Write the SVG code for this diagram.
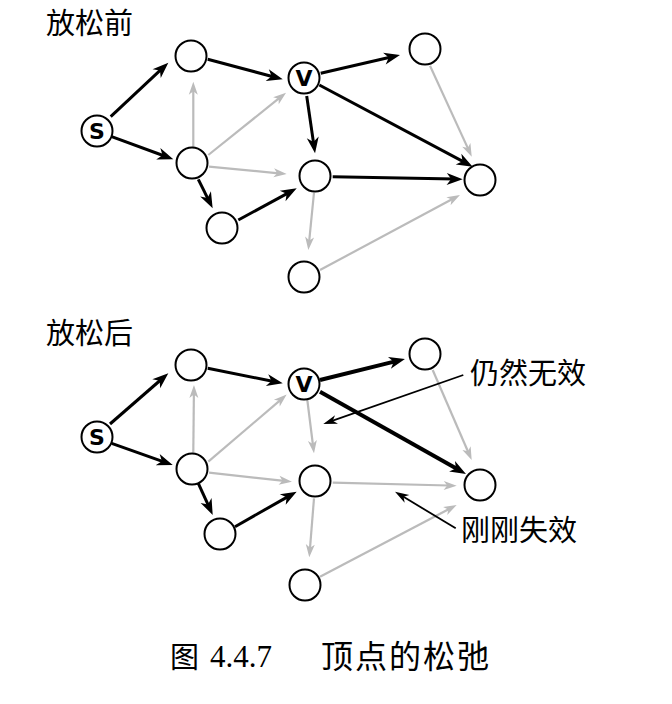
<svg xmlns="http://www.w3.org/2000/svg" width="672" height="704" viewBox="0 0 672 704">
<style>
.n{fill:#fff;stroke:#000;stroke-width:2}
.k{stroke:#000;stroke-width:3;fill:none;marker-end:url(#ab)}
.kk{stroke:#000;stroke-width:4;fill:none;marker-end:url(#ab)}
.g{stroke:#bbb;stroke-width:2.2;fill:none;marker-end:url(#ag)}
.an{stroke:#000;stroke-width:1.8;fill:none;marker-end:url(#aa)}
.lb{font-family:"DejaVu Sans",sans-serif;font-weight:bold;font-size:22px;text-anchor:middle}
.t{font-family:"Noto Sans CJK SC",sans-serif;font-size:29px}
</style>
<defs>
<marker id="ab" markerUnits="userSpaceOnUse" markerWidth="18" markerHeight="13" refX="8" refY="6" orient="auto" overflow="visible"><path d="M0,0 L16,6 L0,12 L4.5,6 z" fill="#000"/></marker>
<marker id="ag" markerUnits="userSpaceOnUse" markerWidth="14" markerHeight="10" refX="5" refY="4.5" orient="auto" overflow="visible"><path d="M0,0 L13,4.5 L0,9 L3.5,4.5 z" fill="#bbb"/></marker>
<marker id="aa" markerUnits="userSpaceOnUse" markerWidth="15" markerHeight="10" refX="7" refY="4.5" orient="auto" overflow="visible"><path d="M0,0 L14,4.5 L0,9 L4,4.5 z" fill="#000"/></marker>
</defs>
<text class="t" x="46" y="34">放松前</text>
<text class="t" x="46" y="344">放松后</text>
<g id="edges-top">
<line class="g" x1="193.3" y1="148.3" x2="193.3" y2="89.7"/>
<line class="g" x1="208.3" y1="155" x2="279.8" y2="97.7"/>
<line class="g" x1="209" y1="166.7" x2="278.7" y2="173.3"/>
<line class="g" x1="430" y1="65.7" x2="468.4" y2="149.4"/>
<line class="g" x1="314" y1="192.7" x2="309.1" y2="242"/>
<line class="g" x1="320" y1="270" x2="452.9" y2="198.8"/>
<line class="k" x1="110.7" y1="116.7" x2="162.5" y2="68.2"/>
<line class="k" x1="111.7" y1="136.7" x2="165.8" y2="156.5"/>
<line class="k" x1="207.7" y1="59.3" x2="275" y2="77.2"/>
<line class="k" x1="198.3" y1="179.3" x2="209.1" y2="201.1"/>
<line class="k" x1="238.3" y1="220" x2="289.7" y2="192.1"/>
<line class="k" x1="320.7" y1="73.3" x2="392.2" y2="56.8"/>
<line class="k" x1="306.7" y1="96" x2="313.9" y2="145.4"/>
<line class="k" x1="319.3" y1="85" x2="465.6" y2="162.9"/>
<line class="k" x1="332.7" y1="176.7" x2="454.7" y2="179.1"/>
</g>
<g id="edges-bottom">
<line class="g" x1="193.3" y1="452.7" x2="193.9" y2="393"/>
<line class="g" x1="208.3" y1="461.7" x2="280.6" y2="399.8"/>
<line class="g" x1="209" y1="472.7" x2="284" y2="480.8"/>
<line class="g" x1="307.3" y1="400" x2="313" y2="445.4"/>
<line class="g" x1="332.7" y1="482.7" x2="448.7" y2="485.5"/>
<line class="g" x1="432.7" y1="370" x2="468.5" y2="452.7"/>
<line class="g" x1="314" y1="498.3" x2="309.9" y2="549.3"/>
<line class="g" x1="320" y1="576.7" x2="449.6" y2="508.7"/>
<line class="k" x1="110" y1="424" x2="162.3" y2="378.5"/>
<line class="k" x1="111.7" y1="443.3" x2="165.2" y2="462.3"/>
<line class="k" x1="207.7" y1="368.3" x2="274.9" y2="381.7"/>
<line class="k" x1="198.3" y1="483.3" x2="209.4" y2="507.7"/>
<line class="k" x1="235" y1="526.7" x2="289.7" y2="495.6"/>
<line class="kk" x1="320" y1="380" x2="397.2" y2="360.9"/>
<line class="kk" x1="320" y1="391.7" x2="459" y2="470.1"/>
</g>
<g id="nodes-top">
<g id="t-s"><circle class="n" cx="97" cy="131" r="15.5"/><text class="lb" x="97" y="139">S</text></g>
<g id="t-a"><circle class="n" cx="191" cy="56" r="15.5"/></g>
<g id="t-v"><circle class="n" cx="304" cy="78" r="15.5"/><text class="lb" x="304" y="86">V</text></g>
<g id="t-e"><circle class="n" cx="425" cy="49" r="15.5"/></g>
<g id="t-b"><circle class="n" cx="192" cy="163" r="15.5"/></g>
<g id="t-d"><circle class="n" cx="315" cy="176" r="15.5"/></g>
<g id="t-f"><circle class="n" cx="480" cy="180" r="15.5"/></g>
<g id="t-c"><circle class="n" cx="222" cy="228" r="15.5"/></g>
<g id="t-g"><circle class="n" cx="304" cy="277" r="15.5"/></g>
</g>
<g id="nodes-bottom">
<g id="b-s"><circle class="n" cx="97" cy="437" r="15.5"/><text class="lb" x="97" y="445">S</text></g>
<g id="b-a"><circle class="n" cx="191" cy="365" r="15.5"/></g>
<g id="b-v"><circle class="n" cx="304" cy="384" r="15.5"/><text class="lb" x="304" y="392">V</text></g>
<g id="b-e"><circle class="n" cx="425" cy="354" r="15.5"/></g>
<g id="b-b"><circle class="n" cx="192" cy="469" r="15.5"/></g>
<g id="b-d"><circle class="n" cx="315" cy="481" r="15.5"/></g>
<g id="b-f"><circle class="n" cx="480" cy="485" r="15.5"/></g>
<g id="b-c"><circle class="n" cx="220" cy="534" r="15.5"/></g>
<g id="b-g"><circle class="n" cx="305" cy="585" r="15.5"/></g>
</g>
<g id="annotations">
<line class="an" x1="463.3" y1="375" x2="329.9" y2="421.7"/>
<text class="t" x="470" y="384">仍然无效</text>
<line class="an" x1="455.7" y1="528.3" x2="401" y2="495.3"/>
<text class="t" x="461" y="541">刚刚失效</text>
</g>
<g id="caption">
<text x="170" y="668" style="font-family:'Noto Sans CJK SC',sans-serif;font-size:29px">图</text>
<text x="210" y="667" style="font-family:'Liberation Serif',serif;font-size:31px">4.4.7</text>
<text x="321" y="668" style="font-family:'Noto Sans CJK SC',sans-serif;font-size:32px;letter-spacing:2px">顶点的松弛</text>
</g>
</svg>
